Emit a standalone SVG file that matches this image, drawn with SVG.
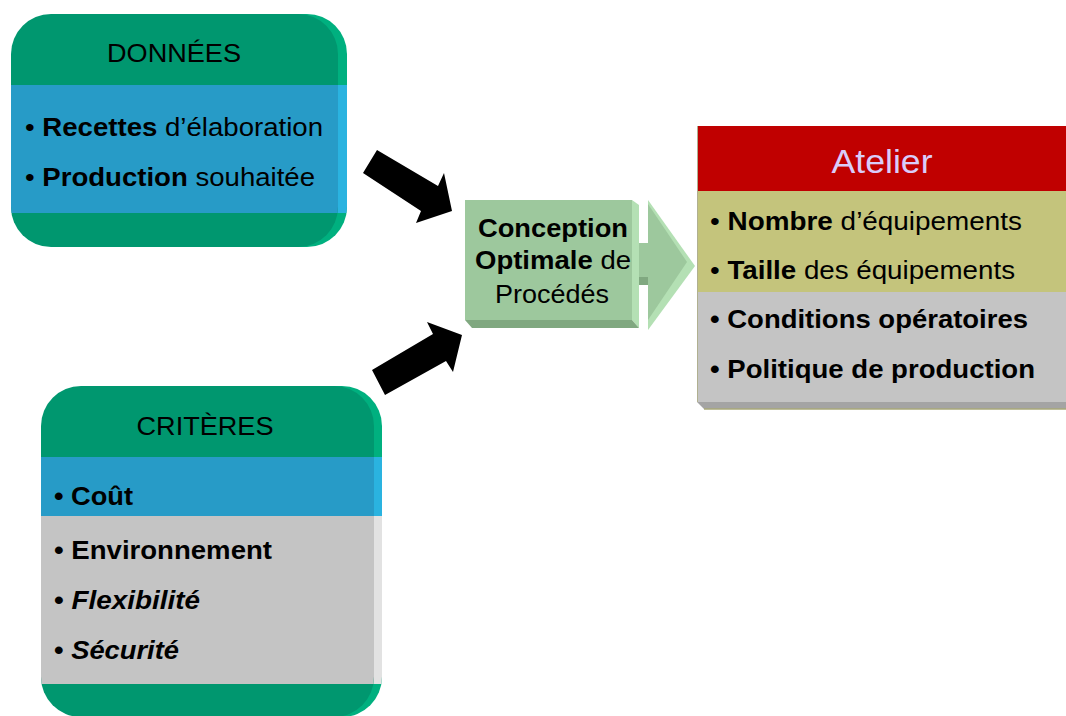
<svg xmlns="http://www.w3.org/2000/svg" width="1066" height="716" viewBox="0 0 1066 716">
<defs>
<style>
text{font-family:"Liberation Sans",Arial,sans-serif;fill:#000}
.t{font-size:25px}
.r{font-size:25px}
.r2{font-size:26px}
.b{font-weight:bold}
.i{font-style:italic;font-weight:bold}
</style>
<clipPath id="dFront"><rect x="11" y="14" width="327" height="233" rx="40"/></clipPath>
<clipPath id="dBack"><rect x="20" y="14" width="327" height="233" rx="40"/></clipPath>
<clipPath id="cFront"><rect x="41" y="386" width="333" height="331" rx="40"/></clipPath>
<clipPath id="cBack"><rect x="49" y="386" width="333" height="331" rx="40"/></clipPath>
</defs>
<rect width="1066" height="716" fill="#fff"/>

<g id="donnees">
<g clip-path="url(#dBack)">
<rect x="11" y="14" width="336" height="233" fill="#00B07F"/>
<rect x="11" y="85" width="336" height="128" fill="#2AB3E0"/>
</g>
<g clip-path="url(#dFront)">
<rect x="11" y="14" width="327" height="233" fill="#00976F"/>
<rect x="11" y="85" width="327" height="128" fill="#279BC7"/>
</g>
<text class="t" x="174" y="62" text-anchor="middle" textLength="134" lengthAdjust="spacingAndGlyphs">DONNÉES</text>
<text class="r" x="25" y="136" textLength="298" lengthAdjust="spacingAndGlyphs">•  <tspan class="b">Recettes</tspan> d’élaboration</text>
<text class="r" x="25" y="186" textLength="290" lengthAdjust="spacingAndGlyphs">• <tspan class="b">Production</tspan> souhaitée</text>
</g>

<g id="criteres">
<g clip-path="url(#cBack)">
<rect x="41" y="386" width="341" height="331" fill="#00B07F"/>
<rect x="41" y="457" width="341" height="59" fill="#2AB3E0"/>
<rect x="41" y="516" width="341" height="168" fill="#E2E2E2"/>
</g>
<g clip-path="url(#cFront)">
<rect x="41" y="386" width="333" height="331" fill="#00976F"/>
<rect x="41" y="457" width="333" height="59" fill="#279BC7"/>
<rect x="41" y="516" width="333" height="168" fill="#C4C4C4"/>
</g>
<text class="t" x="205" y="435" text-anchor="middle" textLength="137" lengthAdjust="spacingAndGlyphs">CRITÈRES</text>
<text class="r b" x="54" y="505" textLength="79" lengthAdjust="spacingAndGlyphs">• Coût</text>
<text class="r b" x="54" y="559" textLength="218" lengthAdjust="spacingAndGlyphs">• Environnement</text>
<text class="r b" x="54" y="609" textLength="146" lengthAdjust="spacingAndGlyphs">• <tspan class="i">Flexibilité</tspan></text>
<text class="r b" x="54" y="659" textLength="125" lengthAdjust="spacingAndGlyphs">• <tspan class="i">Sécurité</tspan></text>
</g>

<g id="conception">
<polygon points="632,200 639,205 639,328 632,320" fill="#B4E0B4"/>
<polygon points="465,320 632,320 639,328 472,328" fill="#80A880"/>
<rect x="465" y="200" width="167" height="120" fill="#9DC89D"/>
<rect x="639" y="243" width="10" height="34" fill="#9DC89D"/>
<rect x="639" y="277" width="10" height="8" fill="#80A880"/>
<polygon points="648,200 695,266 648,330" fill="#B4E0B4"/>
<polygon points="648,204 687,262 648,320" fill="#9DC89D"/>
<text class="r b" x="553" y="237" text-anchor="middle" textLength="150" lengthAdjust="spacingAndGlyphs">Conception</text>
<text class="r" x="553" y="269" text-anchor="middle" textLength="156" lengthAdjust="spacingAndGlyphs"><tspan class="b">Optimale</tspan> de</text>
<text class="r" x="552" y="303" text-anchor="middle" textLength="114" lengthAdjust="spacingAndGlyphs">Procédés</text>
</g>

<g id="atelier">
<polygon points="697,402 1066,402 1066,409 704,409" fill="#A4A4A4"/>
<line x1="704" y1="409" x2="1066" y2="409" stroke="#A8A878" stroke-width="1.5"/>
<rect x="697" y="126" width="369" height="65" fill="#C00000"/>
<rect x="697" y="191" width="369" height="101" fill="#C4C47C"/>
<rect x="697" y="292" width="369" height="110" fill="#C4C4C4"/>
<line x1="697.5" y1="126" x2="697.5" y2="402" stroke="#B0B090" stroke-width="1"/>
<text x="882" y="173" text-anchor="middle" style="font-size:33px;fill:#D9CCFA" textLength="101" lengthAdjust="spacingAndGlyphs">Atelier</text>
<text class="r2" x="710" y="230" textLength="312" lengthAdjust="spacingAndGlyphs">•  <tspan class="b">Nombre</tspan> d’équipements</text>
<text class="r2" x="710" y="279" textLength="305" lengthAdjust="spacingAndGlyphs">• <tspan class="b">Taille</tspan> des équipements</text>
<text class="r2 b" x="710" y="328" textLength="318" lengthAdjust="spacingAndGlyphs">• Conditions opératoires</text>
<text class="r2 b" x="710" y="378" textLength="325" lengthAdjust="spacingAndGlyphs">• Politique de production</text>
</g>

<g id="connectors">
<polygon points="377,150 438,186 444,173 452,211 416,223 421,211 363,173" fill="#000"/>
<polygon points="372,370 433,334 427,322 462,335 453,372 446,361 385,395" fill="#000"/>
</g>
</svg>
